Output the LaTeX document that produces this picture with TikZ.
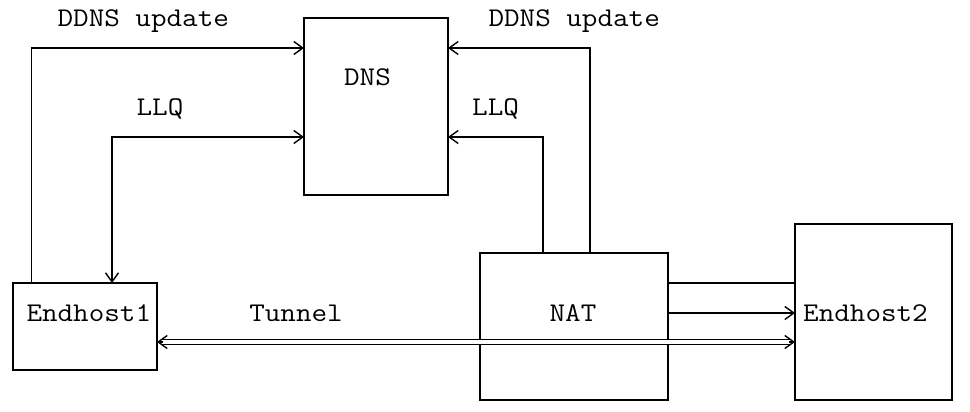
\documentclass[tikz,border=0pt]{standalone}
\usepackage{graphicx}
\usetikzlibrary{arrows.meta}
\newcommand\asciitext[1]{\scalebox{1.12}[1]{#1}}
\begin{document}
\begin{tikzpicture}[x=1pt,y=-1pt,
  box/.style={draw=black, line width=1.4pt, inner sep=0pt, outer sep=0pt},
  lbl/.style={inner sep=0pt, anchor=base, font=\fontsize{27}{30}\selectfont\ttfamily},
  conn/.style={draw=black, line width=1.4pt},
  asc/.tip={Straight Barb[length=9pt,width=13pt]},
  tunnel/.style={draw=black, line width=1.3pt, double=white, double distance=3.7pt,
    shorten <=4pt, shorten >=4pt}]
\useasboundingbox (0,0) rectangle (970,412);
% boxes
\node[box, minimum width=144pt, minimum height=177pt] (dns) at (376,106.5) {};
\node[box, minimum width=144pt, minimum height=87pt] (eh1) at (85,326.5) {};
\node[box, minimum width=188pt, minimum height=147pt] (nat) at (574,326.5) {};
\node[box, minimum width=157pt, minimum height=176pt] (eh2) at (873.5,312) {};
% labels
\node[lbl] (ddnsl) at (143.3,26.7) {\asciitext{DDNS update}};
\node[lbl] (ddnsr) at (574.2,26.7) {\asciitext{DDNS update}};
\node[lbl] (dnsl) at (367.5,85) {\asciitext{DNS}};
\node[lbl] (llql) at (160,115) {\asciitext{LLQ}};
\node[lbl] (llqr) at (495.6,115) {\asciitext{LLQ}};
\node[lbl] (eh1l) at (88.8,321) {\asciitext{Endhost1}};
\node[lbl] (tunl) at (296,321) {\asciitext{Tunnel}};
\node[lbl] (natl) at (573,321) {\asciitext{NAT}};
\node[lbl] (eh2l) at (865.5,321) {\asciitext{Endhost2}};
% helper coordinates (rows and columns)
\coordinate (r1) at (0,48);
\coordinate (r4) at (0,137);
\coordinate (r9) at (0,283);
\coordinate (r10) at (0,313);
\coordinate (r11) at (0,342);
\coordinate (c1) at (31.7,0);
\coordinate (c6) at (112,0);
\coordinate (c33) at (543,0);
\coordinate (c36) at (590,0);
% connectors
\draw[conn,-asc] (c1 |- eh1.north) |- (dns.west |- r1);
\draw[conn,asc-asc] (c6 |- eh1.north) |- (dns.west |- r4);
\draw[conn,-asc] (c36 |- nat.north) |- (dns.east |- r1);
\draw[conn,-asc] (c33 |- nat.north) |- (dns.east |- r4);
\draw[conn] (nat.east |- r9) -- (eh2.west |- r9);
\draw[conn,-asc] (nat.east |- r10) -- (eh2.west |- r10);
% tunnel: double line with a tip at each end
\draw[tunnel] (eh1.east |- r11) -- (eh2.west |- r11);
\draw[conn,asc-] (eh1.east |- r11) -- ++(6,0);
\draw[conn,asc-] (eh2.west |- r11) -- ++(-6,0);
\end{tikzpicture}
\end{document}
